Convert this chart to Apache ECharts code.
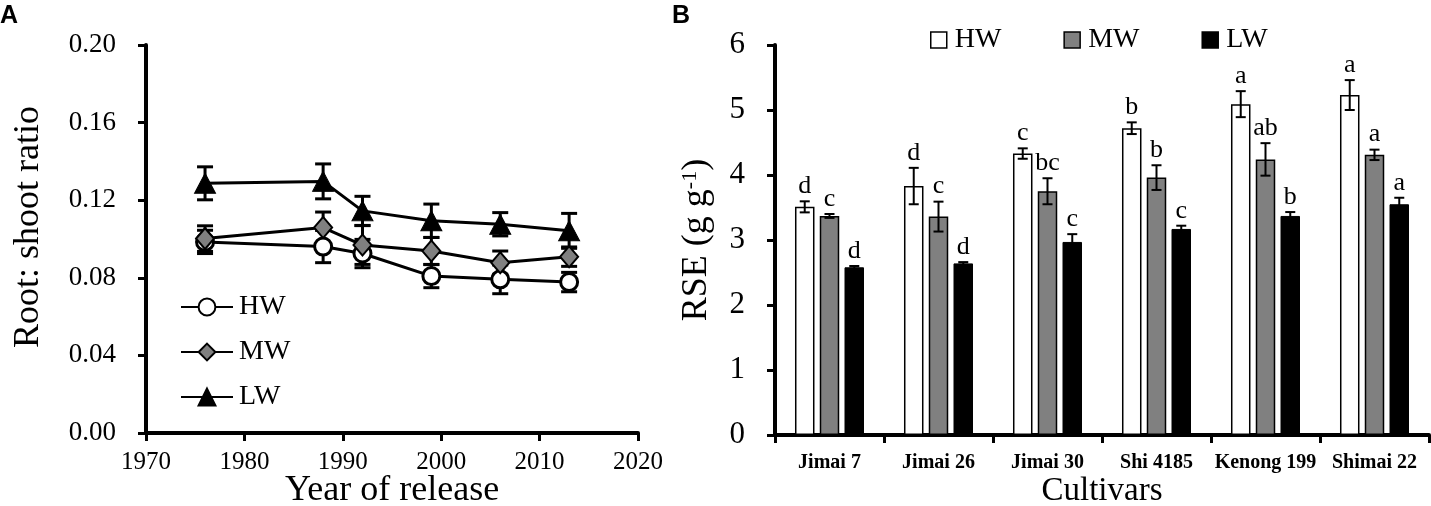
<!DOCTYPE html>
<html>
<head>
<meta charset="utf-8">
<title>Root: shoot ratio and RSE</title>
<script src="https://cdn.jsdelivr.net/npm/echarts@6.0.0/dist/echarts.min.js"></script>
</head>
<body style="margin: 0; background: #fff">
<div id="container" style="width: 1431px; height: 506px"></div>
<script type="text/javascript">
// panel A: root:shoot ratio by year of release
var years = [1976, 1988, 1992, 1999, 2006, 2013];
var hwRatio = [0.0985, 0.0961, 0.0925, 0.0809, 0.0792, 0.0778];
var hwRatioErr = [0.006, 0.0083, 0.0073, 0.006, 0.0074, 0.005];
var mwRatio = [0.1002, 0.1059, 0.0969, 0.0938, 0.0878, 0.0909];
var mwRatioErr = [0.0066, 0.008, 0.01, 0.007, 0.006, 0.005];
var lwRatio = [0.1287, 0.1297, 0.1145, 0.1094, 0.1076, 0.1042];
var lwRatioErr = [0.0085, 0.009, 0.0075, 0.0086, 0.006, 0.009];

// panel B: RSE by cultivar
var cultivars = ['Jimai 7', 'Jimai 26', 'Jimai 30', 'Shi 4185', 'Kenong 199', 'Shimai 22'];
var hwRse = [3.51, 3.83, 4.33, 4.72, 5.09, 5.23];
var hwRseErr = [0.085, 0.28, 0.08, 0.09, 0.2, 0.23];
var hwLetters = ['d', 'd', 'c', 'b', 'a', 'a'];
var mwRse = [3.37, 3.36, 3.75, 3.96, 4.24, 4.31];
var mwRseErr = [0.03, 0.23, 0.2, 0.19, 0.25, 0.08];
var mwLetters = ['c', 'c', 'bc', 'b', 'ab', 'a'];
var lwRse = [2.58, 2.64, 2.97, 3.17, 3.37, 3.55];
var lwRseErr = [0.02, 0.02, 0.12, 0.05, 0.06, 0.1];
var lwLetters = ['d', 'd', 'c', 'c', 'b', 'a'];

var serif = '"Liberation Serif", "Times New Roman", serif';
var barW = 19.5;
var barGap = 0.27;

function pairs(xs, ys) {
    return xs.map(function (x, i) { return [x, ys[i]]; });
}

function ratioErrors(vals, errs) {
    return {
        type: 'custom',
        xAxisIndex: 0,
        yAxisIndex: 0,
        z: 1,
        silent: true,
        data: years.map(function (y, i) { return [y, vals[i] - errs[i], vals[i] + errs[i]]; }),
        encode: { x: 0, y: [1, 2] },
        renderItem: function (params, api) {
            var lo = api.coord([api.value(0), api.value(1)]);
            var hi = api.coord([api.value(0), api.value(2)]);
            var w = 8;
            var st = { stroke: '#000', lineWidth: 3 };
            return {
                type: 'group',
                children: [
                    { type: 'line', shape: { x1: lo[0], y1: lo[1], x2: hi[0], y2: hi[1] }, style: st },
                    { type: 'line', shape: { x1: hi[0] - w, y1: hi[1], x2: hi[0] + w, y2: hi[1] }, style: st },
                    { type: 'line', shape: { x1: lo[0] - w, y1: lo[1], x2: lo[0] + w, y2: lo[1] }, style: st }
                ]
            };
        }
    };
}

function rseErrors(vals, errs, letters, k) {
    return {
        type: 'custom',
        xAxisIndex: 1,
        yAxisIndex: 1,
        z: 5,
        silent: true,
        data: vals.map(function (v, i) { return [i, v - errs[i], v + errs[i]]; }),
        encode: { x: 0, y: [1, 2] },
        renderItem: function (params, api) {
            var dx = (k - 1) * barW * (1 + barGap);
            var lo = api.coord([api.value(0), api.value(1)]);
            var hi = api.coord([api.value(0), api.value(2)]);
            var x = hi[0] + dx;
            var w = 5;
            var st = { stroke: '#000', lineWidth: 2 };
            return {
                type: 'group',
                children: [
                    { type: 'line', shape: { x1: x, y1: lo[1], x2: x, y2: hi[1] }, style: st },
                    { type: 'line', shape: { x1: x - w, y1: hi[1], x2: x + w, y2: hi[1] }, style: st },
                    { type: 'line', shape: { x1: x - w, y1: lo[1], x2: x + w, y2: lo[1] }, style: st },
                    {
                        type: 'text',
                        x: x,
                        y: hi[1] - 2,
                        style: {
                            text: letters[params.dataIndex],
                            fill: '#000',
                            font: '26px ' + serif,
                            align: 'center',
                            verticalAlign: 'bottom'
                        }
                    }
                ]
            };
        }
    };
}

var axisLine = { show: true, lineStyle: { color: '#000', width: 4 } };
var axisTick = { show: true, length: 8, lineStyle: { color: '#000', width: 3 } };

var dom = document.getElementById('container');
var myChart = echarts.init(dom);

var option = {
    animation: false,
    backgroundColor: '#fff',
    graphic: [
        { type: 'text', left: 0, top: 4, style: { text: 'A', font: 'bold 25px "Liberation Sans", Arial, sans-serif', fill: '#000' } },
        { type: 'text', left: 672, top: 4, style: { text: 'B', font: 'bold 25px "Liberation Sans", Arial, sans-serif', fill: '#000' } }
    ],
    legend: [
        {
            data: ['HW', 'MW', 'LW'],
            orient: 'vertical',
            left: 180,
            top: 293,
            padding: 0,
            itemWidth: 52,
            itemHeight: 21,
            itemGap: 17,
            selectedMode: false,
            textStyle: { fontFamily: serif, fontSize: 28, color: '#000', padding: [0, 0, 0, 1] }
        },
        {
            data: [
                { name: 'HW', icon: 'rect', itemStyle: { color: '#fff', borderColor: '#000', borderWidth: 1.5 } },
                { name: 'MW', icon: 'rect', itemStyle: { color: '#808080', borderColor: '#000', borderWidth: 1.5 } },
                { name: 'LW', icon: 'rect', itemStyle: { color: '#000', borderColor: '#000', borderWidth: 1.5 } }
            ],
            orient: 'horizontal',
            left: 930,
            top: 26,
            padding: 0,
            itemWidth: 16,
            itemHeight: 16,
            itemGap: 62,
            selectedMode: false,
            textStyle: { fontFamily: serif, fontSize: 28, color: '#000', padding: [0, 0, 0, 3] }
        }
    ],
    grid: [
        { left: 146, right: 793, top: 45, bottom: 73, containLabel: false, outerBoundsMode: 'none' },
        { left: 775, right: 2, top: 45, bottom: 71, containLabel: false, outerBoundsMode: 'none' }
    ],
    xAxis: [
        {
            gridIndex: 0,
            type: 'value',
            min: 1970,
            max: 2020,
            interval: 10,
            name: 'Year of release',
            nameLocation: 'middle',
            nameGap: 40,
            nameMoveOverlap: false,
            nameTextStyle: { fontFamily: serif, fontSize: 36, color: '#000' },
            axisLine: axisLine,
            axisTick: axisTick,
            splitLine: { show: false },
            axisLabel: {
                fontFamily: serif, fontSize: 25, color: '#000', margin: 17,
                formatter: function (v) { return String(v); }
            }
        },
        {
            gridIndex: 1,
            type: 'category',
            data: cultivars,
            name: 'Cultivars',
            nameLocation: 'middle',
            nameGap: 40,
            nameMoveOverlap: false,
            nameTextStyle: { fontFamily: serif, fontSize: 33, color: '#000' },
            axisLine: axisLine,
            axisTick: { show: true, length: 8, interval: 0, lineStyle: { color: '#000', width: 3 } },
            axisLabel: { interval: 0, fontFamily: serif, fontSize: 20, fontWeight: 'bold', color: '#000', margin: 18 }
        }
    ],
    yAxis: [
        {
            gridIndex: 0,
            type: 'value',
            min: 0,
            max: 0.2,
            interval: 0.04,
            name: 'Root: shoot ratio',
            nameLocation: 'middle',
            nameGap: 99,
            nameMoveOverlap: false,
            nameTextStyle: { fontFamily: serif, fontSize: 36, color: '#000', padding: [0, 0, 0, 24] },
            axisLine: axisLine,
            axisTick: axisTick,
            splitLine: { show: false },
            axisLabel: {
                fontFamily: serif, fontSize: 27, color: '#000', margin: 30,
                formatter: function (v) { return v.toFixed(2); }
            }
        },
        {
            gridIndex: 1,
            type: 'value',
            min: 0,
            max: 6,
            interval: 1,
            name: '{m|RSE (g g}{s|-1}{m|)}',
            nameLocation: 'middle',
            nameGap: 60,
            nameMoveOverlap: false,
            nameTextStyle: {
                color: '#000',
                rich: {
                    m: { fontFamily: serif, fontSize: 36, color: '#000' },
                    s: { fontFamily: serif, fontSize: 22, color: '#000', verticalAlign: 'top' }
                }
            },
            axisLine: axisLine,
            axisTick: axisTick,
            splitLine: { show: false },
            axisLabel: { fontFamily: serif, fontSize: 31, color: '#000', margin: 30 }
        }
    ],
    series: [
        {
            name: 'HW', type: 'line', xAxisIndex: 0, yAxisIndex: 0, z: 3,
            data: pairs(years, hwRatio),
            symbol: 'circle', symbolSize: 17,
            lineStyle: { color: '#000', width: 3 },
            itemStyle: { color: '#fff', borderColor: '#000', borderWidth: 3 }
        },
        {
            name: 'MW', type: 'line', xAxisIndex: 0, yAxisIndex: 0, z: 3,
            data: pairs(years, mwRatio),
            symbol: 'diamond', symbolSize: [18, 21],
            lineStyle: { color: '#000', width: 3 },
            itemStyle: { color: '#808080', borderColor: '#000', borderWidth: 2 }
        },
        {
            name: 'LW', type: 'line', xAxisIndex: 0, yAxisIndex: 0, z: 3,
            data: pairs(years, lwRatio),
            symbol: 'triangle', symbolSize: [21, 20],
            lineStyle: { color: '#000', width: 3 },
            itemStyle: { color: '#000', borderColor: '#000', borderWidth: 1 }
        },
        ratioErrors(hwRatio, hwRatioErr),
        ratioErrors(mwRatio, mwRatioErr),
        ratioErrors(lwRatio, lwRatioErr),
        {
            name: 'HW', type: 'bar', xAxisIndex: 1, yAxisIndex: 1,
            data: hwRse, barWidth: barW, barGap: (barGap * 100) + '%',
            itemStyle: { color: '#fff', borderColor: '#000', borderWidth: 1.5 }
        },
        {
            name: 'MW', type: 'bar', xAxisIndex: 1, yAxisIndex: 1,
            data: mwRse, barWidth: barW, barGap: (barGap * 100) + '%',
            itemStyle: { color: '#808080', borderColor: '#000', borderWidth: 1.5 }
        },
        {
            name: 'LW', type: 'bar', xAxisIndex: 1, yAxisIndex: 1,
            data: lwRse, barWidth: barW, barGap: (barGap * 100) + '%',
            itemStyle: { color: '#000', borderColor: '#000', borderWidth: 1 }
        },
        rseErrors(hwRse, hwRseErr, hwLetters, 0),
        rseErrors(mwRse, mwRseErr, mwLetters, 1),
        rseErrors(lwRse, lwRseErr, lwLetters, 2)
    ]
};

myChart.setOption(option);
window.onresize = function () {
    myChart.resize();
};
</script>
</body>
</html>
